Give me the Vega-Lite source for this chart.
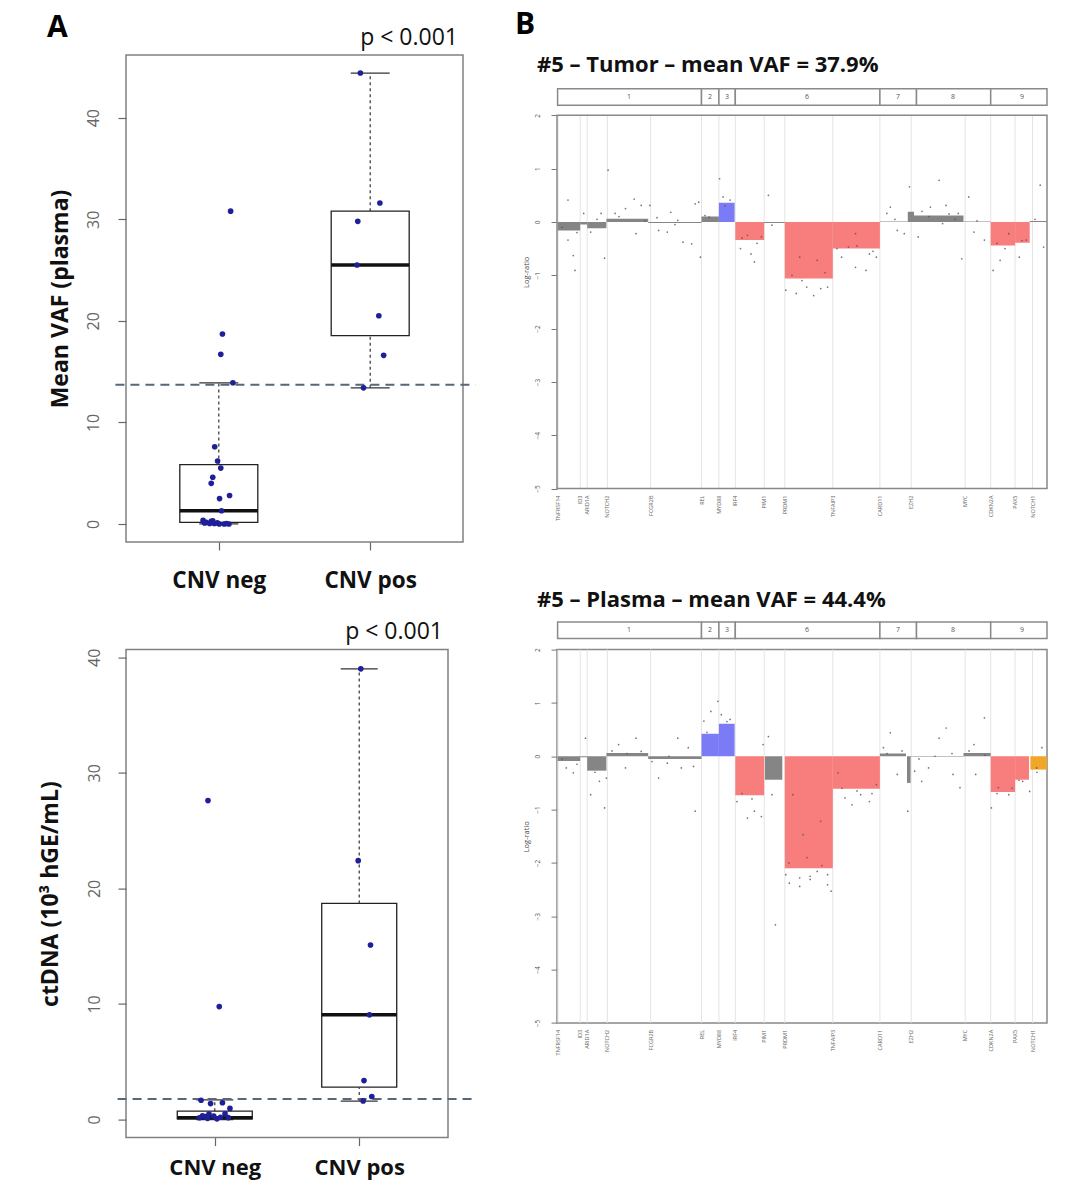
{
  "$schema": "https://vega.github.io/schema/vega-lite/v6.json",
  "padding": {"left": 38, "top": 10, "right": 0, "bottom": 0},
  "autosize": {"type": "pad"},
  "background": "white",
  "config": {
    "font": "Open Sans",
    "view": {"stroke": "#808080", "strokeWidth": 1.5},
    "axis": {"labelFont": "Open Sans", "titleFont": "Open Sans"},
    "title": {"font": "Open Sans"}
  },
  "datasets": {
    "a1box": [
      {"g": 1, "lo": 0, "q1": 0.15, "med": 1.3, "q3": 5.85, "hi": 13.9},
      {"g": 2, "lo": 13.4, "q1": 18.55, "med": 25.5, "q3": 30.8, "hi": 44.4}
    ],
    "a2box": [
      {"g": 1, "lo": 0, "q1": 0.05, "med": 0.15, "q3": 0.72, "hi": 1.7},
      {"g": 2, "lo": 1.6, "q1": 2.8, "med": 9.06, "q3": 18.7, "hi": 39.0}
    ],
    "a1pts": [
      {"xj": 1.078, "v": 30.8}, {"xj": 1.024, "v": 18.7}, {"xj": 1.013, "v": 16.7}, {"xj": 1.093, "v": 13.9},
      {"xj": 0.973, "v": 7.6}, {"xj": 0.992, "v": 6.2}, {"xj": 1.013, "v": 5.5}, {"xj": 0.96, "v": 4.6},
      {"xj": 0.95, "v": 4.0}, {"xj": 1.071, "v": 2.8}, {"xj": 1.005, "v": 2.5}, {"xj": 1.018, "v": 1.3},
      {"xj": 0.896, "v": 0.35}, {"xj": 0.917, "v": 0.15}, {"xj": 0.95, "v": 0.25}, {"xj": 0.97, "v": 0.05},
      {"xj": 1.003, "v": 0.0}, {"xj": 1.035, "v": 0.0}, {"xj": 1.067, "v": 0.0}, {"xj": 0.94, "v": 0.05},
      {"xj": 0.906, "v": 0.1}, {"xj": 0.96, "v": 0.3}, {"xj": 0.99, "v": 0.1}, {"xj": 1.05, "v": 0.05},
      {"xj": 1.935, "v": 44.4}, {"xj": 2.064, "v": 31.6}, {"xj": 1.918, "v": 29.8}, {"xj": 1.913, "v": 25.5},
      {"xj": 2.057, "v": 20.5}, {"xj": 2.089, "v": 16.6}, {"xj": 1.956, "v": 13.4}
    ],
    "a2pts": [
      {"xj": 0.953, "v": 27.6}, {"xj": 1.031, "v": 9.77}, {"xj": 0.905, "v": 1.67}, {"xj": 0.971, "v": 1.38},
      {"xj": 1.053, "v": 1.45}, {"xj": 1.105, "v": 0.96}, {"xj": 1.093, "v": 0.16}, {"xj": 1.015, "v": 0.06},
      {"xj": 0.938, "v": 0.26}, {"xj": 0.915, "v": 0.32}, {"xj": 0.96, "v": 0.48}, {"xj": 0.993, "v": 0.3},
      {"xj": 0.893, "v": 0.15}, {"xj": 1.071, "v": 0.5}, {"xj": 0.95, "v": 0.1}, {"xj": 1.04, "v": 0.2},
      {"xj": 2.011, "v": 39.0}, {"xj": 1.993, "v": 22.4}, {"xj": 2.078, "v": 15.1}, {"xj": 2.071, "v": 9.06},
      {"xj": 2.033, "v": 3.37}, {"xj": 2.087, "v": 1.99}, {"xj": 2.027, "v": 1.61}
    ],
    "genes": [
      {"pos": 1, "gene": "TNFRSF14"}, {"pos": 23.2, "gene": "ID3"}, {"pos": 30.2, "gene": "ARID1A"},
      {"pos": 50.4, "gene": "NOTCH2"}, {"pos": 93.6, "gene": "FCGR2B"}, {"pos": 144.5, "gene": "REL"},
      {"pos": 161.9, "gene": "MYD88"}, {"pos": 178.3, "gene": "IRF4"}, {"pos": 207.2, "gene": "PIM1"},
      {"pos": 227.8, "gene": "PRDM1"}, {"pos": 275.8, "gene": "TNFAIP3"}, {"pos": 322.9, "gene": "CARD11"},
      {"pos": 354.2, "gene": "EZH2"}, {"pos": 408.2, "gene": "MYC"}, {"pos": 433.7, "gene": "CDKN2A"},
      {"pos": 458.1, "gene": "PAX5"}, {"pos": 475.5, "gene": "NOTCH1"}
    ],
    "chroms": [
      {"chr": "1", "start": 0.6, "end": 144.5, "mid": 72},
      {"chr": "2", "start": 144.5, "end": 161.9, "mid": 153},
      {"chr": "3", "start": 161.9, "end": 178.3, "mid": 170},
      {"chr": "6", "start": 178.3, "end": 322.9, "mid": 250},
      {"chr": "7", "start": 322.9, "end": 359.5, "mid": 341},
      {"chr": "8", "start": 359.5, "end": 433.7, "mid": 396},
      {"chr": "9", "start": 433.7, "end": 490, "mid": 465}
    ],
    "tseg": [
      {"start": 0.6, "end": 23.2, "lr": -0.16, "call": "neutral"},
      {"start": 23.2, "end": 30.2, "lr": -0.05, "call": "neutral"},
      {"start": 30.2, "end": 49.4, "lr": -0.12, "call": "neutral"},
      {"start": 49.4, "end": 91.2, "lr": 0.06, "call": "neutral"},
      {"start": 91.2, "end": 144.5, "lr": -0.02, "call": "neutral"},
      {"start": 144.5, "end": 161.9, "lr": 0.1, "call": "neutral"},
      {"start": 161.9, "end": 177.6, "lr": 0.36, "call": "gain"},
      {"start": 178.3, "end": 207.2, "lr": -0.34, "call": "loss"},
      {"start": 207.2, "end": 227.8, "lr": -0.02, "call": "neutral"},
      {"start": 227.8, "end": 275.8, "lr": -1.06, "call": "loss"},
      {"start": 275.8, "end": 322.9, "lr": -0.5, "call": "loss"},
      {"start": 322.9, "end": 350.8, "lr": 0.01, "call": "neutral"},
      {"start": 350.8, "end": 357, "lr": 0.19, "call": "neutral"},
      {"start": 357, "end": 406.5, "lr": 0.12, "call": "neutral"},
      {"start": 406.5, "end": 433.7, "lr": 0.01, "call": "neutral"},
      {"start": 433.7, "end": 458.1, "lr": -0.44, "call": "loss"},
      {"start": 458.1, "end": 472.7, "lr": -0.39, "call": "loss"},
      {"start": 472.7, "end": 492, "lr": 0.02, "call": "neutral"}
    ],
    "pseg": [
      {"start": 0.6, "end": 23.2, "lr": -0.09, "call": "neutral"},
      {"start": 23.2, "end": 30.2, "lr": -0.02, "call": "neutral"},
      {"start": 30.2, "end": 49.4, "lr": -0.27, "call": "neutral"},
      {"start": 49.4, "end": 91.2, "lr": 0.06, "call": "neutral"},
      {"start": 91.2, "end": 144.5, "lr": -0.05, "call": "neutral"},
      {"start": 144.5, "end": 161.9, "lr": 0.42, "call": "gain"},
      {"start": 161.9, "end": 177.6, "lr": 0.61, "call": "gain"},
      {"start": 178.3, "end": 207.2, "lr": -0.73, "call": "loss"},
      {"start": 207.9, "end": 225.3, "lr": -0.44, "call": "neutral"},
      {"start": 227.8, "end": 275.8, "lr": -2.1, "call": "loss"},
      {"start": 275.8, "end": 322.9, "lr": -0.61, "call": "loss"},
      {"start": 322.9, "end": 349, "lr": 0.05, "call": "neutral"},
      {"start": 350, "end": 353.6, "lr": -0.5, "call": "neutral"},
      {"start": 353.6, "end": 406.5, "lr": -0.01, "call": "neutral"},
      {"start": 406.5, "end": 433.7, "lr": 0.06, "call": "neutral"},
      {"start": 433.7, "end": 458.1, "lr": -0.67, "call": "loss"},
      {"start": 458.1, "end": 472, "lr": -0.44, "call": "loss"},
      {"start": 473.4, "end": 492, "lr": -0.25, "call": "other"}
    ],
    "tpts": [
      {"pos": 11, "lr": 0.41}, {"pos": 11, "lr": -0.34}, {"pos": 16.3, "lr": -0.63}, {"pos": 18, "lr": -0.91},
      {"pos": 26.7, "lr": 0.16}, {"pos": 33.7, "lr": -0.19}, {"pos": 44.1, "lr": 0.16}, {"pos": 47.6, "lr": -0.68},
      {"pos": 51.1, "lr": 0.97}, {"pos": 58.1, "lr": 0.16}, {"pos": 68.5, "lr": 0.25}, {"pos": 77.2, "lr": 0.43},
      {"pos": 79, "lr": -0.22}, {"pos": 84.2, "lr": 0.31}, {"pos": 92.9, "lr": 0.31}, {"pos": 101.6, "lr": -0.16},
      {"pos": 110.3, "lr": -0.19}, {"pos": 113.8, "lr": 0.18}, {"pos": 120.8, "lr": 0.03}, {"pos": 126, "lr": -0.38},
      {"pos": 134.7, "lr": -0.41}, {"pos": 138.2, "lr": 0.34}, {"pos": 141.7, "lr": 0.37}, {"pos": 143.4, "lr": -0.66},
      {"pos": 152.2, "lr": 0.09}, {"pos": 162.6, "lr": 0.81}, {"pos": 166.1, "lr": 0.47}, {"pos": 173.1, "lr": 0.41},
      {"pos": 183.5, "lr": -0.5}, {"pos": 190.5, "lr": -0.25}, {"pos": 194, "lr": -0.6}, {"pos": 197.4, "lr": -0.75},
      {"pos": 204.4, "lr": -0.28}, {"pos": 211.4, "lr": 0.5}, {"pos": 214.9, "lr": -0.06}, {"pos": 228.8, "lr": -1.28},
      {"pos": 239.3, "lr": -1.34}, {"pos": 242.7, "lr": -0.66}, {"pos": 249.7, "lr": -1.22}, {"pos": 256.7, "lr": -1.38},
      {"pos": 260.2, "lr": -0.72}, {"pos": 263.7, "lr": -1.25}, {"pos": 270.6, "lr": -1.22}, {"pos": 284.6, "lr": -0.66},
      {"pos": 291.5, "lr": -0.47}, {"pos": 298.5, "lr": -0.85}, {"pos": 298.5, "lr": -0.22}, {"pos": 309, "lr": -0.91},
      {"pos": 312.4, "lr": -0.6}, {"pos": 319.4, "lr": -0.66}, {"pos": 329.9, "lr": 0.16}, {"pos": 333.3, "lr": 0.28},
      {"pos": 340.3, "lr": -0.16}, {"pos": 347.3, "lr": -0.22}, {"pos": 352.5, "lr": 0.66}, {"pos": 361.2, "lr": -0.28},
      {"pos": 373.4, "lr": 0.28}, {"pos": 382.1, "lr": 0.78}, {"pos": 385.6, "lr": -0.03}, {"pos": 389.1, "lr": 0.31},
      {"pos": 401.3, "lr": 0.16}, {"pos": 404.8, "lr": -0.69}, {"pos": 411.7, "lr": 0.47}, {"pos": 417, "lr": -0.19},
      {"pos": 427.4, "lr": -0.34}, {"pos": 436.1, "lr": -0.91}, {"pos": 443.1, "lr": -0.72}, {"pos": 451.8, "lr": -0.22},
      {"pos": 462.3, "lr": -0.66}, {"pos": 469.2, "lr": -0.34}, {"pos": 483.2, "lr": 0.69}, {"pos": 486.6, "lr": -0.47},
      {"pos": 5, "lr": -0.1}, {"pos": 20, "lr": -0.2}, {"pos": 40, "lr": 0.05}, {"pos": 62, "lr": 0.1},
      {"pos": 88, "lr": 0.02}, {"pos": 100, "lr": 0.08}, {"pos": 118, "lr": -0.05}, {"pos": 148, "lr": 0.12},
      {"pos": 168, "lr": 0.3}, {"pos": 185, "lr": -0.3}, {"pos": 200, "lr": -0.4}, {"pos": 235, "lr": -1.0},
      {"pos": 245, "lr": -1.1}, {"pos": 268, "lr": -0.95}, {"pos": 280, "lr": -0.5}, {"pos": 300, "lr": -0.45},
      {"pos": 316, "lr": -0.55}, {"pos": 338, "lr": 0.05}, {"pos": 365, "lr": 0.2}, {"pos": 372, "lr": 0.1},
      {"pos": 392, "lr": 0.15}, {"pos": 398, "lr": 0.05}, {"pos": 420, "lr": 0.02}, {"pos": 440, "lr": -0.4},
      {"pos": 448, "lr": -0.5}, {"pos": 465, "lr": -0.35}, {"pos": 478, "lr": 0.05}
    ],
    "ppts": [
      {"pos": 9.3, "lr": -0.22}, {"pos": 16.3, "lr": -0.31}, {"pos": 28.5, "lr": 0.34}, {"pos": 33.7, "lr": -0.72},
      {"pos": 42.4, "lr": -0.47}, {"pos": 47.6, "lr": -0.97}, {"pos": 49.4, "lr": -0.41}, {"pos": 61.6, "lr": 0.22},
      {"pos": 68.5, "lr": -0.22}, {"pos": 79, "lr": 0.34}, {"pos": 84.2, "lr": 0.09}, {"pos": 101.6, "lr": -0.41},
      {"pos": 110.3, "lr": -0.13}, {"pos": 120.8, "lr": 0.34}, {"pos": 124.3, "lr": -0.22}, {"pos": 131.3, "lr": 0.16},
      {"pos": 136.5, "lr": -0.19}, {"pos": 138.2, "lr": -1.03}, {"pos": 146.9, "lr": 0.66}, {"pos": 153.9, "lr": 0.84},
      {"pos": 160.9, "lr": 1.03}, {"pos": 164.3, "lr": 0.78}, {"pos": 173.1, "lr": 0.69}, {"pos": 180, "lr": -0.85},
      {"pos": 190.5, "lr": -1.16}, {"pos": 197.4, "lr": -1.03}, {"pos": 204.4, "lr": -1.13}, {"pos": 206.1, "lr": 0.22},
      {"pos": 211.4, "lr": 0.37}, {"pos": 214.9, "lr": -0.72}, {"pos": 218.4, "lr": -3.16}, {"pos": 228.8, "lr": -2.22},
      {"pos": 232.3, "lr": -2.38}, {"pos": 235.8, "lr": -0.72}, {"pos": 242.7, "lr": -2.28}, {"pos": 242.7, "lr": -2.44},
      {"pos": 246.2, "lr": -1.47}, {"pos": 253.1, "lr": -2.25}, {"pos": 253.2, "lr": -2.31}, {"pos": 260.2, "lr": -2.16},
      {"pos": 263.7, "lr": -1.22}, {"pos": 270.6, "lr": -2.22}, {"pos": 270.6, "lr": -2.41}, {"pos": 274.1, "lr": -2.53},
      {"pos": 281.1, "lr": -0.31}, {"pos": 288, "lr": -0.78}, {"pos": 295, "lr": -0.91}, {"pos": 303.7, "lr": -0.72},
      {"pos": 312.4, "lr": -0.85}, {"pos": 319.4, "lr": -0.53}, {"pos": 326.4, "lr": 0.16}, {"pos": 333.3, "lr": 0.44},
      {"pos": 340.3, "lr": -0.34}, {"pos": 350.8, "lr": -1.03}, {"pos": 357.7, "lr": -0.28}, {"pos": 364.7, "lr": -0.47},
      {"pos": 371.6, "lr": -0.22}, {"pos": 382.1, "lr": 0.34}, {"pos": 389.1, "lr": 0.53}, {"pos": 396, "lr": -0.34},
      {"pos": 403, "lr": -0.59}, {"pos": 417, "lr": 0.22}, {"pos": 418.7, "lr": -0.34}, {"pos": 427.4, "lr": 0.72},
      {"pos": 434.4, "lr": -0.97}, {"pos": 441.4, "lr": -0.59}, {"pos": 451.8, "lr": -0.72}, {"pos": 465.7, "lr": -0.47},
      {"pos": 472.7, "lr": -0.66}, {"pos": 479.7, "lr": -0.22}, {"pos": 484.9, "lr": 0.16},
      {"pos": 5, "lr": -0.05}, {"pos": 20, "lr": -0.15}, {"pos": 38, "lr": -0.3}, {"pos": 55, "lr": 0.1},
      {"pos": 70, "lr": 0.05}, {"pos": 95, "lr": -0.1}, {"pos": 112, "lr": 0.0}, {"pos": 150, "lr": 0.45},
      {"pos": 170, "lr": 0.65}, {"pos": 185, "lr": -0.7}, {"pos": 195, "lr": -0.8}, {"pos": 232, "lr": -2.0},
      {"pos": 250, "lr": -1.9}, {"pos": 265, "lr": -2.05}, {"pos": 285, "lr": -0.6}, {"pos": 300, "lr": -0.65},
      {"pos": 315, "lr": -0.7}, {"pos": 330, "lr": 0.05}, {"pos": 345, "lr": 0.1}, {"pos": 362, "lr": -0.05},
      {"pos": 378, "lr": 0.0}, {"pos": 395, "lr": 0.05}, {"pos": 412, "lr": 0.1}, {"pos": 428, "lr": 0.02},
      {"pos": 440, "lr": -0.7}, {"pos": 455, "lr": -0.6}, {"pos": 462, "lr": -0.45}, {"pos": 480, "lr": -0.3}
    ]
  },
  "columns": 2,
  "spacing": {"row": 107.6, "column": 94},
  "bounds": "flush",
  "concat": [
    {
      "width": 337, "height": 487,
      "title": {"text": "A", "anchor": "start", "frame": "bounds", "fontSize": 30, "fontWeight": "bold", "color": "#000", "offset": -16, "dx": -2},
      "layer": [
        {
          "data": {"name": "a1box"},
          "mark": {"type": "bar", "size": 78, "fill": "white", "fillOpacity": 0, "stroke": "#222", "strokeWidth": 1.3},
          "encoding": {
            "x": {"field": "g", "type": "quantitative", "scale": {"domain": [0.42, 2.58], "nice": false, "zero": false},
              "axis": {"title": null, "values": [1, 2], "labelExpr": "datum.value == 1 ? 'CNV neg' : 'CNV pos'", "grid": false, "domain": false, "tickSize": 8, "tickColor": "#666", "tickWidth": 1.2, "labelFontSize": 22.5, "labelFontWeight": "bold", "labelColor": "#111", "labelPadding": 19, "labelFlush": false}},
            "y": {"field": "q1", "type": "quantitative", "scale": {"domain": [-1.776, 46.176], "nice": false, "zero": false},
              "axis": {"title": "Mean VAF (plasma)", "values": [0, 10, 20, 30, 40], "grid": false, "domain": false, "tickSize": 8, "tickColor": "#666", "tickWidth": 1.2, "labelAngle": -90, "labelAlign": "center", "labelBaseline": "bottom", "labelFontSize": 16, "labelColor": "#666", "labelPadding": 17, "labelFlush": false, "titleFontSize": 23, "titleFontWeight": "bold", "titleColor": "#111", "titlePadding": 13}},
            "y2": {"field": "q3"}
          }
        },
        {
          "data": {"name": "a1box"},
          "mark": {"type": "rule", "strokeDash": [3, 3], "color": "#333", "strokeWidth": 1.2},
          "encoding": {"x": {"field": "g", "type": "quantitative"}, "y": {"field": "q3", "type": "quantitative"}, "y2": {"field": "hi"}}
        },
        {
          "data": {"name": "a1box"},
          "mark": {"type": "rule", "strokeDash": [3, 3], "color": "#333", "strokeWidth": 1.2},
          "encoding": {"x": {"field": "g", "type": "quantitative"}, "y": {"field": "lo", "type": "quantitative"}, "y2": {"field": "q1"}}
        },
        {
          "data": {"name": "a1box"},
          "mark": {"type": "tick", "orient": "horizontal", "size": 39, "thickness": 1.3, "color": "#333", "opacity": 1},
          "encoding": {"x": {"field": "g", "type": "quantitative"}, "y": {"field": "hi", "type": "quantitative"}}
        },
        {
          "data": {"name": "a1box"},
          "mark": {"type": "tick", "orient": "horizontal", "size": 39, "thickness": 1.3, "color": "#333", "opacity": 1},
          "encoding": {"x": {"field": "g", "type": "quantitative"}, "y": {"field": "lo", "type": "quantitative"}}
        },
        {
          "data": {"name": "a1box"},
          "mark": {"type": "tick", "orient": "horizontal", "size": 78, "thickness": 3.5, "color": "#111", "opacity": 1},
          "encoding": {"x": {"field": "g", "type": "quantitative"}, "y": {"field": "med", "type": "quantitative"}}
        },
        {
          "data": {"values": [{"cut": 13.7}]},
          "mark": {"type": "rule", "strokeDash": [9, 6], "color": "#56687a", "strokeWidth": 2},
          "encoding": {"x": {"datum": 0.317}, "x2": {"datum": 2.696}, "y": {"field": "cut", "type": "quantitative"}}
        },
        {
          "data": {"name": "a1pts"},
          "mark": {"type": "circle", "size": 32, "color": "#1f1f99", "opacity": 1},
          "encoding": {"x": {"field": "xj", "type": "quantitative"}, "y": {"field": "v", "type": "quantitative"}}
        },
        {
          "data": {"values": [{"label": "p < 0.001"}]},
          "mark": {"type": "text", "align": "right", "baseline": "middle", "fontSize": 23, "color": "#111"},
          "encoding": {"x": {"datum": 2.58}, "y": {"datum": 47.82}, "text": {"field": "label"}}
        }
      ]
    },
    {
      "width": 490, "height": 433.6,
      "view": {"stroke": null},
      "title": {"text": "B", "anchor": "start", "frame": "bounds", "fontSize": 30, "fontWeight": "bold", "color": "#000", "offset": 14, "dx": -7},
      "layer": [
        {
          "data": {"name": "genes"},
          "mark": {"type": "rule", "color": "#e4e4e4", "strokeWidth": 1},
          "encoding": {
            "x": {"field": "pos", "type": "quantitative", "scale": {"domain": [0, 490], "nice": false, "zero": false},
              "axis": {"title": null, "labels": false, "ticks": false, "domain": false, "grid": false}},
            "y": {"datum": -5, "type": "quantitative", "scale": {"domain": [-5, 3.1306], "nice": false, "zero": false},
              "axis": {"title": "Log-ratio", "values": [-5, -4, -3, -2, -1, 0, 1, 2], "format": "d", "grid": false, "domain": false, "tickSize": 6, "tickColor": "#777", "labelAngle": -90, "labelAlign": "center", "labelBaseline": "bottom", "labelFontSize": 6.5, "labelColor": "#555", "labelPadding": 11, "labelFlush": false, "titleFontSize": 7.5, "titleFontWeight": "normal", "titleColor": "#444", "titlePadding": 4}},
            "y2": {"datum": 2}
          }
        },
        {
          "data": {"name": "tseg"},
          "mark": {"type": "rect", "clip": true},
          "encoding": {
            "x": {"field": "start", "type": "quantitative"},
            "x2": {"field": "end"},
            "y": {"field": "lr", "type": "quantitative"},
            "y2": {"datum": 0},
            "color": {"field": "call", "type": "nominal", "scale": {"domain": ["gain", "loss", "neutral", "other"], "range": ["#7b7bf5", "#f87d7d", "#858585", "#f2a629"]}, "legend": null}
          }
        },
        {
          "data": {"name": "tpts"},
          "mark": {"type": "circle", "size": 3, "color": "#555", "opacity": 0.8, "clip": true},
          "encoding": {"x": {"field": "pos", "type": "quantitative"}, "y": {"field": "lr", "type": "quantitative"}}
        },
        {
          "data": {"values": [{"panel": "tumor"}]},
          "mark": {"type": "rect", "fillOpacity": 0, "stroke": "#888", "strokeWidth": 1.5},
          "encoding": {"x": {"datum": 0}, "x2": {"datum": 490}, "y": {"datum": -5}, "y2": {"datum": 2}}
        },
        {
          "data": {"name": "genes"},
          "mark": {"type": "text", "angle": 270, "align": "right", "baseline": "middle", "fontSize": 5.5, "color": "#666"},
          "encoding": {"x": {"field": "pos", "type": "quantitative"}, "y": {"datum": -5.13}, "text": {"field": "gene"}}
        },
        {
          "data": {"name": "chroms"},
          "mark": {"type": "rect", "fill": "white", "stroke": "#8a8a8a", "strokeWidth": 1.5},
          "encoding": {"x": {"field": "start", "type": "quantitative"}, "x2": {"field": "end"}, "y": {"datum": 2.1875}, "y2": {"datum": 2.5}}
        },
        {
          "data": {"name": "chroms"},
          "mark": {"type": "text", "fontSize": 7, "color": "#555", "baseline": "middle"},
          "encoding": {"x": {"field": "mid", "type": "quantitative"}, "y": {"datum": 2.344}, "text": {"field": "chr"}}
        },
        {
          "data": {"values": [{"label": "#5 – Tumor – mean VAF = 37.9%"}]},
          "mark": {"type": "text", "align": "left", "baseline": "middle", "fontSize": 22, "fontWeight": "bold", "color": "#111"},
          "encoding": {"x": {"datum": -20}, "y": {"datum": 2.9375}, "text": {"field": "label"}}
        }
      ]
    },
    {
      "width": 322, "height": 488,
      "layer": [
        {
          "data": {"name": "a2box"},
          "mark": {"type": "bar", "size": 75, "fill": "white", "fillOpacity": 0, "stroke": "#222", "strokeWidth": 1.3},
          "encoding": {
            "x": {"field": "g", "type": "quantitative", "scale": {"domain": [0.42, 2.58], "nice": false, "zero": false},
              "axis": {"title": null, "values": [1, 2], "labelExpr": "datum.value == 1 ? 'CNV neg' : 'CNV pos'", "grid": false, "domain": false, "tickSize": 8, "tickColor": "#666", "tickWidth": 1.2, "labelFontSize": 22, "labelFontWeight": "bold", "labelColor": "#111", "labelPadding": 12, "labelFlush": false}},
            "y": {"field": "q1", "type": "quantitative", "scale": {"domain": [-1.564, 40.664], "nice": false, "zero": false},
              "axis": {"title": "ctDNA (10³ hGE/mL)", "values": [0, 10, 20, 30, 40], "grid": false, "domain": false, "tickSize": 8, "tickColor": "#666", "tickWidth": 1.2, "labelAngle": -90, "labelAlign": "center", "labelBaseline": "bottom", "labelFontSize": 16, "labelColor": "#666", "labelPadding": 16, "labelFlush": false, "titleFontSize": 23, "titleFontWeight": "bold", "titleColor": "#111", "titlePadding": 24}},
            "y2": {"field": "q3"}
          }
        },
        {
          "data": {"name": "a2box"},
          "mark": {"type": "rule", "strokeDash": [3, 3], "color": "#333", "strokeWidth": 1.2},
          "encoding": {"x": {"field": "g", "type": "quantitative"}, "y": {"field": "q3", "type": "quantitative"}, "y2": {"field": "hi"}}
        },
        {
          "data": {"name": "a2box"},
          "mark": {"type": "rule", "strokeDash": [3, 3], "color": "#333", "strokeWidth": 1.2},
          "encoding": {"x": {"field": "g", "type": "quantitative"}, "y": {"field": "lo", "type": "quantitative"}, "y2": {"field": "q1"}}
        },
        {
          "data": {"name": "a2box"},
          "mark": {"type": "tick", "orient": "horizontal", "size": 37, "thickness": 1.3, "color": "#333", "opacity": 1},
          "encoding": {"x": {"field": "g", "type": "quantitative"}, "y": {"field": "hi", "type": "quantitative"}}
        },
        {
          "data": {"name": "a2box"},
          "mark": {"type": "tick", "orient": "horizontal", "size": 37, "thickness": 1.3, "color": "#333", "opacity": 1},
          "encoding": {"x": {"field": "g", "type": "quantitative"}, "y": {"field": "lo", "type": "quantitative"}}
        },
        {
          "data": {"name": "a2box"},
          "mark": {"type": "tick", "orient": "horizontal", "size": 75, "thickness": 3.5, "color": "#111", "opacity": 1},
          "encoding": {"x": {"field": "g", "type": "quantitative"}, "y": {"field": "med", "type": "quantitative"}}
        },
        {
          "data": {"values": [{"cut": 1.77}]},
          "mark": {"type": "rule", "strokeDash": [9, 6], "color": "#56687a", "strokeWidth": 2},
          "encoding": {"x": {"datum": 0.327}, "x2": {"datum": 2.793}, "y": {"field": "cut", "type": "quantitative"}}
        },
        {
          "data": {"name": "a2pts"},
          "mark": {"type": "circle", "size": 32, "color": "#1f1f99", "opacity": 1},
          "encoding": {"x": {"field": "xj", "type": "quantitative"}, "y": {"field": "v", "type": "quantitative"}}
        },
        {
          "data": {"values": [{"label": "p < 0.001"}]},
          "mark": {"type": "text", "align": "right", "baseline": "middle", "fontSize": 23, "color": "#111"},
          "encoding": {"x": {"datum": 2.58}, "y": {"datum": 42.16}, "text": {"field": "label"}}
        }
      ]
    },
    {
      "width": 490, "height": 373.3,
      "view": {"stroke": "#888", "strokeWidth": 1.5},
      "layer": [
        {
          "data": {"name": "genes"},
          "mark": {"type": "rule", "color": "#e4e4e4", "strokeWidth": 1},
          "encoding": {
            "x": {"field": "pos", "type": "quantitative", "scale": {"domain": [0, 490], "nice": false, "zero": false},
              "axis": {"title": null, "labels": false, "ticks": false, "domain": false, "grid": false}},
            "y": {"datum": -5, "type": "quantitative", "scale": {"domain": [-5, 2], "nice": false, "zero": false},
              "axis": {"title": "Log-ratio", "values": [-5, -4, -3, -2, -1, 0, 1, 2], "format": "d", "grid": false, "domain": false, "tickSize": 6, "tickColor": "#777", "labelAngle": -90, "labelAlign": "center", "labelBaseline": "bottom", "labelFontSize": 6.5, "labelColor": "#555", "labelPadding": 11, "labelFlush": false, "titleFontSize": 7.5, "titleFontWeight": "normal", "titleColor": "#444", "titlePadding": 4}},
            "y2": {"datum": 2}
          }
        },
        {
          "data": {"name": "pseg"},
          "mark": {"type": "rect", "clip": true},
          "encoding": {
            "x": {"field": "start", "type": "quantitative"},
            "x2": {"field": "end"},
            "y": {"field": "lr", "type": "quantitative"},
            "y2": {"datum": 0},
            "color": {"field": "call", "type": "nominal", "scale": {"domain": ["gain", "loss", "neutral", "other"], "range": ["#7b7bf5", "#f87d7d", "#858585", "#f2a629"]}, "legend": null}
          }
        },
        {
          "data": {"name": "ppts"},
          "mark": {"type": "circle", "size": 3, "color": "#555", "opacity": 0.8, "clip": true},
          "encoding": {"x": {"field": "pos", "type": "quantitative"}, "y": {"field": "lr", "type": "quantitative"}}
        },
        {
          "data": {"name": "genes"},
          "mark": {"type": "text", "angle": 270, "align": "right", "baseline": "middle", "fontSize": 5.5, "color": "#666"},
          "encoding": {"x": {"field": "pos", "type": "quantitative"}, "y": {"datum": -5.13}, "text": {"field": "gene"}}
        },
        {
          "data": {"name": "chroms"},
          "mark": {"type": "rect", "fill": "white", "stroke": "#8a8a8a", "strokeWidth": 1.5},
          "encoding": {"x": {"field": "start", "type": "quantitative"}, "x2": {"field": "end"}, "y": {"datum": 2.206}, "y2": {"datum": 2.5175}}
        },
        {
          "data": {"name": "chroms"},
          "mark": {"type": "text", "fontSize": 7, "color": "#555", "baseline": "middle"},
          "encoding": {"x": {"field": "mid", "type": "quantitative"}, "y": {"datum": 2.362}, "text": {"field": "chr"}}
        },
        {
          "data": {"values": [{"label": "#5 – Plasma – mean VAF = 44.4%"}]},
          "mark": {"type": "text", "align": "left", "baseline": "middle", "fontSize": 22, "fontWeight": "bold", "color": "#111"},
          "encoding": {"x": {"datum": -20}, "y": {"datum": 2.924}, "text": {"field": "label"}}
        }
      ]
    }
  ]
}
